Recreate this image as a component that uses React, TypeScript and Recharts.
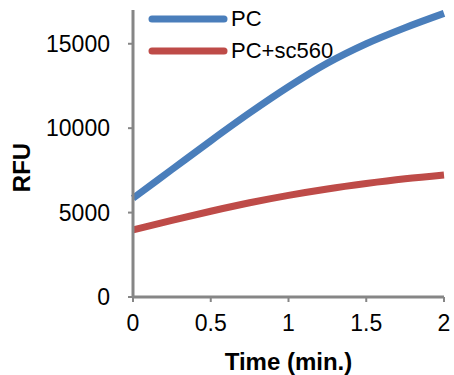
import React from 'react'
import { LineChart, Line, XAxis, YAxis } from 'recharts'

// time points (min.)
const times = [0, 0.25, 0.5, 0.75, 1, 1.25, 1.5, 1.75, 2]
const pcValues = [5850, 7550, 9250, 10900, 12450, 13850, 15000, 15950, 16800]
const pcSc560Values = [3970, 4540, 5080, 5580, 6020, 6400, 6720, 7000, 7230]

const xTicks = [0, 0.5, 1, 1.5, 2]
const yTicks = [0, 5000, 10000, 15000]

const BLUE = '#4a7ebb'
const RED = '#be4b48'
const AXIS = '#868686'
const FONT = '"Liberation Sans", Arial, sans-serif'

const data = times.map((t, i) => ({ t, pc: pcValues[i], sc: pcSc560Values[i] }))

const series = [
  { key: 'pc', name: 'PC', color: BLUE },
  { key: 'sc', name: 'PC+sc560', color: RED },
]

function YLabel({ viewBox }: { viewBox?: { x: number; y: number; width: number; height: number } }) {
  if (!viewBox) return null
  const x = viewBox.x + 21
  const y = viewBox.y + viewBox.height / 2 + 14
  return (
    <text
      x={x}
      y={y}
      transform={`rotate(-90, ${x}, ${y})`}
      textAnchor="middle"
      dominantBaseline="central"
      fill="#000"
      fontFamily={FONT}
      fontWeight="bold"
      fontSize={24}
    >
      RFU
    </text>
  )
}

// legend sits inside the plot area, top-left
function LegendBox() {
  return (
    <div style={{ position: 'absolute', left: 148, top: 3, fontFamily: FONT, fontSize: 22, color: '#000' }}>
      {series.map(it => (
        <div key={it.name} style={{ display: 'flex', alignItems: 'center', height: 32 }}>
          <svg width={80} height={10} style={{ marginRight: 3 }}>
            <line x1={4} y1={5} x2={76} y2={5} stroke={it.color} strokeWidth={7} strokeLinecap="round" />
          </svg>
          <span>{it.name}</span>
        </div>
      ))}
    </div>
  )
}

export default function App() {
  const tickStyle = { fill: '#000', fontSize: 23, fontFamily: FONT }
  return (
    <div style={{ position: 'absolute', left: 0, top: 0, width: 454, height: 375, background: '#fff' }}>
      <LineChart width={454} height={375} data={data} margin={{ top: 10, right: 10, bottom: 0, left: 0 }}>
        <XAxis
          dataKey="t"
          type="number"
          domain={[0, 2]}
          ticks={xTicks}
          height={78}
          tick={tickStyle}
          tickSize={5}
          tickMargin={13}
          axisLine={{ stroke: AXIS, strokeWidth: 3 }}
          tickLine={{ stroke: AXIS, strokeWidth: 2 }}
          label={{ value: 'Time (min.)', position: 'insideBottom', offset: 5, fill: '#000', fontFamily: FONT, fontWeight: 'bold', fontSize: 24 }}
        />
        <YAxis
          type="number"
          domain={[0, 17000]}
          ticks={yTicks}
          width={133}
          tick={tickStyle}
          tickSize={5}
          tickMargin={18}
          axisLine={{ stroke: AXIS, strokeWidth: 3 }}
          tickLine={{ stroke: AXIS, strokeWidth: 2 }}
          label={<YLabel />}
        />
        {series.map(s => (
          <Line
            key={s.key}
            type="monotone"
            dataKey={s.key}
            name={s.name}
            stroke={s.color}
            strokeWidth={7}
            dot={false}
            isAnimationActive={false}
          />
        ))}
      </LineChart>
      <LegendBox />
    </div>
  )
}
